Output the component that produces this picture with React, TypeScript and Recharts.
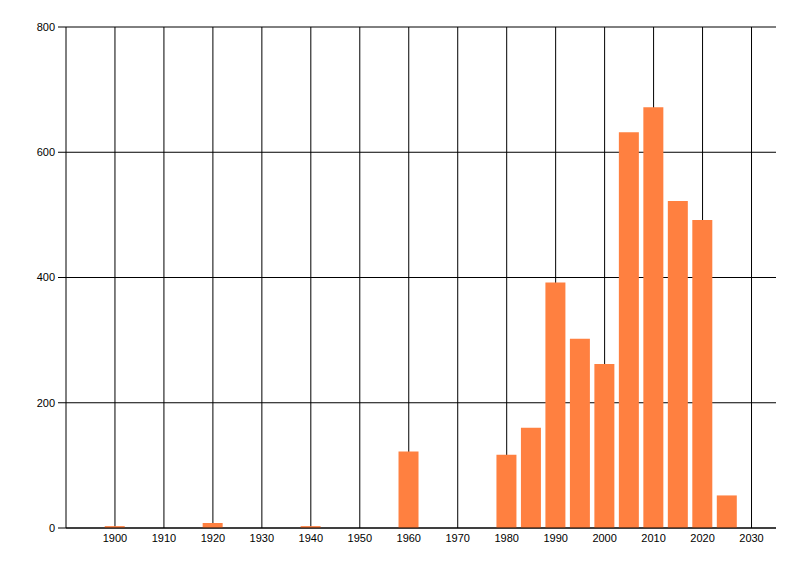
import * as React from "react";
import { BarChart, Bar, XAxis, YAxis, CartesianGrid } from "recharts";

document.body.style.margin = "0";

const years = [1900, 1920, 1940, 1960, 1980, 1985, 1990, 1995, 2000, 2005, 2010, 2015, 2020, 2025];
const counts = [3, 8, 3, 122, 117, 160, 392, 302, 262, 632, 672, 522, 492, 52];
const xTicks = [1900, 1910, 1920, 1930, 1940, 1950, 1960, 1970, 1980, 1990, 2000, 2010, 2020, 2030];
const yTicks = [0, 200, 400, 600, 800];

const data = years.map((year, i) => ({ year, count: counts[i] }));

const tickStyle = { fontSize: 11, fill: "#000", fontFamily: "'Liberation Sans', Arial, sans-serif" };

export default function App() {
  return (
    <div style={{ width: 800, height: 576, background: "#fff" }}>
      <BarChart
        width={800}
        height={576}
        data={data}
        margin={{ top: 27, right: 24, bottom: 28, left: 0 }}
      >
        <CartesianGrid stroke="#000" strokeOpacity={1} verticalValues={xTicks} horizontalValues={yTicks} />
        <XAxis
          dataKey="year"
          type="number"
          domain={[1890, 2035]}
          ticks={xTicks}
          allowDataOverflow
          height={20}
          tickLine={false}
          tickSize={4}
          tickMargin={2}
          axisLine={{ stroke: "#000" }}
          tick={tickStyle}
        />
        <YAxis
          domain={[0, 800]}
          ticks={yTicks}
          width={66}
          tickSize={8}
          tickMargin={3}
          tickLine={{ stroke: "#000" }}
          axisLine={{ stroke: "#000" }}
          tick={tickStyle}
        />
        <Bar dataKey="count" fill="#FF8040" barSize={20} isAnimationActive={false} />
      </BarChart>
    </div>
  );
}
